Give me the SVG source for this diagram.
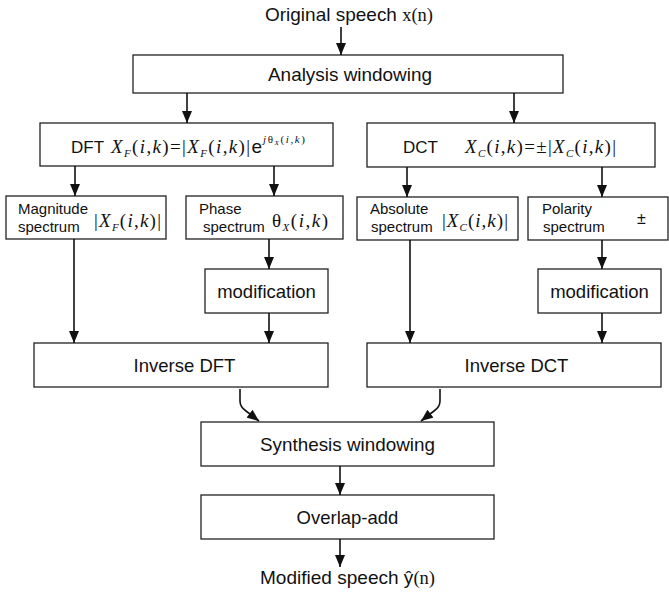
<svg xmlns="http://www.w3.org/2000/svg" width="669" height="593" viewBox="0 0 669 593">
<style>
.box{fill:#fff;stroke:#222;stroke-width:1.3}
.lbl{font-family:"Liberation Sans",Arial,sans-serif;font-size:18.5px;fill:#111}
.sm{font-family:"Liberation Sans",Arial,sans-serif;font-size:15px;fill:#111}
.m{font-family:"Liberation Serif","Times New Roman",serif;font-size:19px;fill:#111}
.it{font-style:italic}
.sub{font-size:11px}
.con{fill:none;stroke:#111;stroke-width:1.6}
</style>
<defs>
<marker id="ah" viewBox="0 0 12 10" refX="12" refY="5" markerWidth="12" markerHeight="10" markerUnits="userSpaceOnUse" orient="auto">
<path d="M0,0 L12,5 L0,10 z" fill="#111"/>
</marker>
</defs>
<rect width="669" height="593" fill="#fff"/>

<g id="input">
<text class="lbl" x="265" y="21" textLength="168" lengthAdjust="spacingAndGlyphs">Original speech <tspan class="m" style="font-size:18px">x(n)</tspan></text>
</g>

<g id="analysis">
<rect class="box" x="133" y="55" width="430" height="38"/>
<text class="lbl" x="268" y="81" textLength="164" lengthAdjust="spacingAndGlyphs">Analysis windowing</text>
</g>

<g id="dft">
<rect class="box" x="40" y="123" width="293" height="43"/>
<text class="lbl" x="71" y="153" style="font-size:17px">DFT</text>
<text class="m" x="111" y="153" textLength="151" lengthAdjust="spacing"><tspan class="it">X</tspan><tspan class="it sub" dy="4">F</tspan><tspan dy="-4">(</tspan><tspan class="it">i</tspan>,<tspan class="it">k</tspan>)=|<tspan class="it">X</tspan><tspan class="it sub" dy="4">F</tspan><tspan dy="-4">(</tspan><tspan class="it">i</tspan>,<tspan class="it">k</tspan>)|<tspan font-family="Liberation Sans, Arial, sans-serif">e</tspan></text>
<text class="m" x="263" y="143" style="font-size:11px" textLength="42" lengthAdjust="spacing"><tspan class="it">j</tspan>θ<tspan class="it" style="font-size:7px" dy="2">X</tspan><tspan dy="-2">(</tspan><tspan class="it">i</tspan>,<tspan class="it">k</tspan>)</text>
</g>

<g id="dct">
<rect class="box" x="367" y="123" width="288" height="44"/>
<text class="lbl" x="403" y="153" style="font-size:17px">DCT</text>
<text class="m" x="465" y="153" textLength="151" lengthAdjust="spacing"><tspan class="it">X</tspan><tspan class="it sub" dy="4">C</tspan><tspan dy="-4">(</tspan><tspan class="it">i</tspan>,<tspan class="it">k</tspan>)=±|<tspan class="it">X</tspan><tspan class="it sub" dy="4">C</tspan><tspan dy="-4">(</tspan><tspan class="it">i</tspan>,<tspan class="it">k</tspan>)|</text>
</g>

<g id="magnitude">
<rect class="box" x="6" y="196" width="160" height="43"/>
<text class="sm" x="18" y="214">Magnitude</text>
<text class="sm" x="18" y="232">spectrum</text>
<text class="m" x="94" y="227" textLength="67" lengthAdjust="spacing">|<tspan class="it">X</tspan><tspan class="it sub" dy="4">F</tspan><tspan dy="-4">(</tspan><tspan class="it">i</tspan>,<tspan class="it">k</tspan>)|</text>
</g>

<g id="phase">
<rect class="box" x="186" y="196" width="157" height="43"/>
<text class="sm" x="199" y="214">Phase</text>
<text class="sm" x="203" y="232">spectrum</text>
<text class="m" x="272" y="227" textLength="56" lengthAdjust="spacing">θ<tspan class="it sub" dy="4">X</tspan><tspan dy="-4">(</tspan><tspan class="it">i</tspan>,<tspan class="it">k</tspan>)</text>
</g>

<g id="absolute">
<rect class="box" x="357" y="197" width="161" height="43"/>
<text class="sm" x="370" y="214">Absolute</text>
<text class="sm" x="371" y="232">spectrum</text>
<text class="m" x="442" y="227" textLength="66" lengthAdjust="spacing">|<tspan class="it">X</tspan><tspan class="it sub" dy="4">C</tspan><tspan dy="-4">(</tspan><tspan class="it">i</tspan>,<tspan class="it">k</tspan>)|</text>
</g>

<g id="polarity">
<rect class="box" x="528" y="197" width="140" height="43"/>
<text class="sm" x="542" y="214">Polarity</text>
<text class="sm" x="543" y="232">spectrum</text>
<text class="sm" x="637" y="224" style="font-size:16px">±</text>
</g>

<g id="modDFT">
<rect class="box" x="205" y="269" width="123" height="44"/>
<text class="lbl" x="266.5" y="298" text-anchor="middle">modification</text>
</g>

<g id="modDCT">
<rect class="box" x="538" y="269" width="123" height="44"/>
<text class="lbl" x="599.5" y="298" text-anchor="middle">modification</text>
</g>

<g id="idft">
<rect class="box" x="34" y="343" width="294" height="44"/>
<text class="lbl" x="184.5" y="372" text-anchor="middle">Inverse DFT</text>
</g>

<g id="idct">
<rect class="box" x="367" y="343" width="294" height="44"/>
<text class="lbl" x="516.5" y="372" text-anchor="middle">Inverse DCT</text>
</g>

<g id="synthesis">
<rect class="box" x="201" y="422" width="293" height="44"/>
<text class="lbl" x="347.5" y="451" text-anchor="middle" textLength="175" lengthAdjust="spacingAndGlyphs">Synthesis windowing</text>
</g>

<g id="overlap">
<rect class="box" x="201" y="495" width="293" height="44"/>
<text class="lbl" x="347.5" y="524" text-anchor="middle">Overlap-add</text>
</g>

<g id="output">
<text class="lbl" x="260" y="584" textLength="175" lengthAdjust="spacingAndGlyphs">Modified speech ŷ<tspan class="m" style="font-size:18px">(n)</tspan></text>
</g>

<g id="connectors">
<path class="con" d="M341,27 V55" marker-end="url(#ah)"/>
<path class="con" d="M187,93 V123" marker-end="url(#ah)"/>
<path class="con" d="M514,93 V123" marker-end="url(#ah)"/>
<path class="con" d="M75,166 V196" marker-end="url(#ah)"/>
<path class="con" d="M274,166 V196" marker-end="url(#ah)"/>
<path class="con" d="M407,167 V197" marker-end="url(#ah)"/>
<path class="con" d="M602,167 V197" marker-end="url(#ah)"/>
<path class="con" d="M74,239 V343" marker-end="url(#ah)"/>
<path class="con" d="M269,239 V269" marker-end="url(#ah)"/>
<path class="con" d="M269,313 V343" marker-end="url(#ah)"/>
<path class="con" d="M410,240 V343" marker-end="url(#ah)"/>
<path class="con" d="M602,240 V269" marker-end="url(#ah)"/>
<path class="con" d="M602,313 V343" marker-end="url(#ah)"/>
<path class="con" d="M240,389 V401 Q240,407 246,411 L259,421" marker-end="url(#ah)"/>
<path class="con" d="M440,389 V401 Q440,407 434,411 L421,421" marker-end="url(#ah)"/>
<path class="con" d="M340,466 V495" marker-end="url(#ah)"/>
<path class="con" d="M340,539 V567" marker-end="url(#ah)"/>
</g>
</svg>
